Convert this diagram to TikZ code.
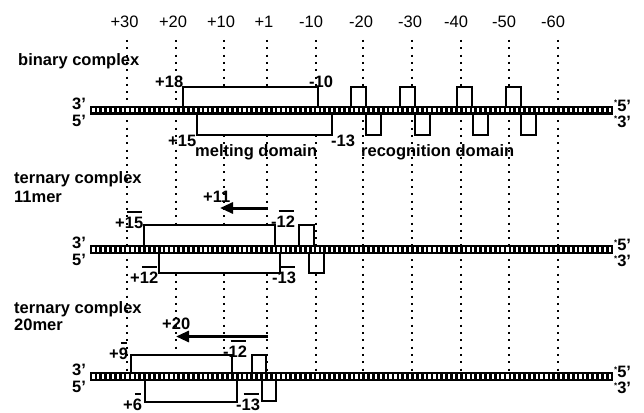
\documentclass[tikz,border=0pt]{standalone}
\usepackage{fontspec}
\setmainfont{Liberation Sans}
\usetikzlibrary{arrows.meta}

% digits with a bar drawn above them
\newcommand\ovbar[1]{\sbox0{#1}\rlap{\hspace{2pt}\raisebox{15.5pt}{\rule{\dimexpr\wd0-3pt\relax}{2pt}}}\usebox0}
% small raised star marking the labelled strand ends
\newcommand\strandstar{\raisebox{5.5pt}{\fontsize{8}{8}\selectfont *}}

\tikzset{
  lbl/.style={font=\fontsize{16.5}{18}\selectfont\bfseries, inner sep=0pt, anchor=base west},
  axl/.style={font=\fontsize{16.5}{18}\selectfont, inner sep=0pt, anchor=base},
  guide/.style={line width=1.2pt, dash pattern=on 2pt off 5.3pt},
  bubble/.style={draw, fill=white, line width=2pt},
  pushback/.style={line width=3pt, -{Triangle[length=13pt,width=11pt]}},
}

\begin{document}
\begin{tikzpicture}[x=1pt,y=-1pt]
\useasboundingbox (0,0) rectangle (644,412);
\fill[white] (0,0) rectangle (644,412);

% position scale
\foreach \x/\t [count=\k] in {124.5/+30,173/+20,221/+10,264/+1,311/-10,361/-20,410/-30,456/-40,504/-50,553/-60}
  \node[axl] (ax\k) at (\x,28) {\t};
\foreach \x in {127,176,224,267,316,363,412,461,509,558}
  \draw[guide] (\x,40) -- (\x,372);

% binary complex: footprints on both strands
\draw[bubble] (183,110) rectangle (318,87);
\draw[bubble] (197,110) rectangle (332,135);
\foreach \x in {351,400,457,506} \draw[bubble] (\x,110) rectangle ++(15,-23);
\foreach \x in {366,415,473,521} \draw[bubble] (\x,110) rectangle ++(14.5,25);

% ternary complex, 11mer
\draw[bubble] (144,249.5) rectangle (275,225);
\draw[bubble] (159,249.5) rectangle (280,273);
\draw[bubble] (299,249.5) rectangle (314,225);
\draw[bubble] (308.5,249.5) rectangle (323.5,273);

% ternary complex, 20mer
\draw[bubble] (131,376.5) rectangle (232,355);
\draw[bubble] (145,376.5) rectangle (237,402);
\draw[bubble] (252,376.5) rectangle (266,355);
\draw[bubble] (262,376.5) rectangle (276,401);

% DNA duplexes
\foreach \c [count=\k] in {110,249.5,376.5} {
  \fill[black] (90,\c-4.5) rectangle (613,\c+4.5);
  \foreach \i in {0,...,106}
    \fill[white] ({92.4+\i*4.87},\c-2.3) rectangle ++(2.2,4.6);
  \node[lbl] (l3\k) at (72,\c-1) {3'};
  \node[lbl] (l5\k) at (72,\c+16) {5'};
  \node[lbl] (r5\k) at (614,\c+1) {\strandstar5'};
  \node[lbl] (r3\k) at (614,\c+17) {\strandstar3'};
}

% labels: binary complex
\node[lbl] (tbin) at (18,65) {binary complex};
\node[lbl] (b18) at (155,87) {+18};
\node[lbl] (b10) at (309,87) {-10};
\node[lbl] (b15) at (168,146) {+15};
\node[lbl] (b13) at (331,146) {-13};
\node[lbl] (melt) at (195,156) {melting domain};
\node[lbl] (recog) at (361,156) {recognition domain};

% labels: 11mer
\node[lbl] (tter1) at (14,183) {ternary complex};
\node[lbl] (len1) at (14,202) {11mer};
\node[lbl] (m11) at (203,202) {+11};
\node[lbl] (m15) at (115,228) {+\ovbar{15}};
\node[lbl] (m12a) at (271,227) {-\ovbar{12}};
\node[lbl] (m12b) at (130,283) {+\ovbar{12}};
\node[lbl] (m13) at (272,283) {-\ovbar{13}};
\coordinate (s1) at (268,208);
\coordinate (e1) at (220,208);
\draw[pushback] (s1) -- (e1);

% labels: 20mer
\node[lbl] (tter2) at (14,313) {ternary complex};
\node[lbl] (len2) at (14,330) {20mer};
\node[lbl] (n20) at (162,329) {+20};
\node[lbl] (n9) at (109,359) {+\ovbar{9}};
\node[lbl] (n12) at (223,357) {-\ovbar{12}};
\node[lbl] (n6) at (123,410) {+\ovbar{6}};
\node[lbl] (n13) at (236,410) {-\ovbar{13}};
\coordinate (s2) at (268,336.5);
\coordinate (e2) at (176,336.5);
\draw[pushback] (s2) -- (e2);
\end{tikzpicture}
\end{document}
